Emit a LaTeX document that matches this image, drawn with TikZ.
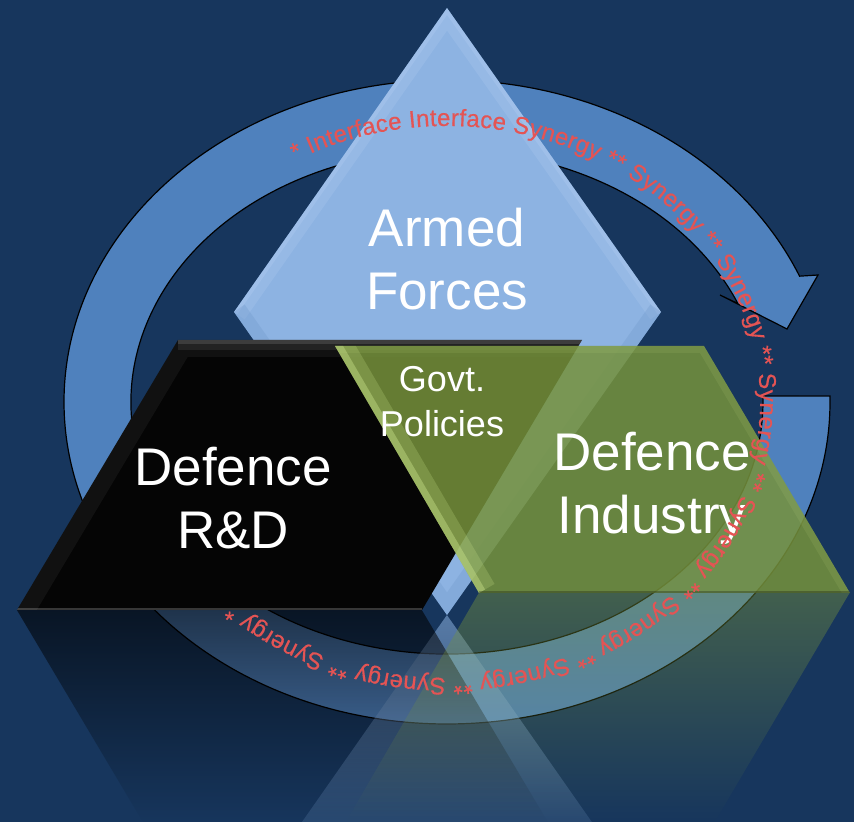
\documentclass[tikz,border=0pt]{standalone}
\usepackage{fontspec}
\setmainfont{Liberation Sans}
\newfontfamily\ringfont[FakeBold=0.4]{Liberation Sans}
\usetikzlibrary{
	calc				% Allows ($(a)+(b)$) style coordinates
	, fadings			% Allows fading reflections
	, decorations.text	% Allows text along the ring
}

\definecolor{navy}{RGB}{23,54,93}
\definecolor{ringblue}{RGB}{79,129,189}
\definecolor{skyblue}{RGB}{141,179,226}
\definecolor{skylight}{RGB}{186,212,245}
\definecolor{skydark}{RGB}{110,150,200}
\definecolor{olive}{RGB}{118,146,60}
\definecolor{olivelight}{RGB}{205,230,140}
\definecolor{synred}{RGB}{228,84,84}

\tikzfading[name=fadeblack, top color=transparent!40, middle color=transparent!85, bottom color=transparent!100]
\tikzfading[name=fadeolive, top color=transparent!55, middle color=transparent!85, bottom color=transparent!100]
\tikzfading[name=fadesky, top color=transparent!45, bottom color=transparent!85]

\begin{document}
\begin{tikzpicture}[x=1pt, y=1pt
		, ring/.style={fill=ringblue, draw=black, line width=1.2pt}
		, bigtext/.style={text=white, align=center, inner sep=0pt, font=\fontsize{53}{63}\selectfont}
		, smalltext/.style={text=white, align=center, inner sep=0pt, font=\fontsize{36}{45}\selectfont}
		, bevel/.style={line join=miter, line cap=butt}]

		\useasboundingbox (0,0) rectangle (854,822);
		\fill[navy] (0,0) rectangle (854,822);

		%%% Corner points of the three blocks
		\coordinate (ringc) at (447,420);
		%% Armed Forces
		\coordinate (forcestop) at (447,814);
		\coordinate (forcesleft) at (234,510);
		\coordinate (forcesright) at (661,510);
		\coordinate (forcesbottom) at (447,207);
		%% Defence R&D
		\coordinate (rndtl) at (178,482);
		\coordinate (rndtr) at (582,482);
		\coordinate (rndbr) at (422,212);
		\coordinate (rndbl) at (17,212);
		%% Defence Industry
		\coordinate (industrytl) at (335,476);
		\coordinate (industrytr) at (704,476);
		\coordinate (industrybr) at (850,229);
		\coordinate (industrybl) at (479,229);

		%%% Circular arrow
		\draw[ring] ($(ringc)+(1.07:383 and 322)$)
			arc[start angle=1.07, end angle=-337, x radius=383pt, y radius=322pt]
			-- (818,547) -- (787,493) -- (720,527)
			-- ($(ringc)+(-337:316 and 252)$)
			arc[start angle=-337, end angle=1.36, x radius=316pt, y radius=252pt] -- cycle;

		%%% Reflections
		\fill[skyblue, path fading=fadesky] (forcesbottom) -- (592,0) -- (302,0) -- cycle;
		\fill[black, path fading=fadeblack] (rndbl) -- (rndbr) -- (548,0) -- (143,0) -- cycle;
		\fill[olive, path fading=fadeolive] (industrybl) -- (industrybr) -- (715,0) -- (346,0) -- cycle;

		%%% Armed Forces
		\fill[skyblue] (forcestop) -- (forcesright) -- (forcesbottom) -- (forcesleft) -- cycle;
		\begin{scope}
			\clip (forcestop) -- (forcesright) -- (forcesbottom) -- (forcesleft) -- cycle;
			\draw[bevel, skylight, line width=26pt, opacity=0.2] (forcesleft) -- (forcestop) -- (forcesright);
			\draw[bevel, skylight, line width=8pt, opacity=0.25] (forcesleft) -- (forcestop) -- (forcesright);
			\draw[bevel, skydark, line width=26pt, opacity=0.3] (forcesleft) -- (forcesbottom) -- (forcesright);
		\end{scope}

		%%% Defence R&D
		\fill[black!98] (rndtl) -- (rndtr) -- (rndbr) -- (rndbl) -- cycle;
		\begin{scope}
			\clip (rndtl) -- (rndtr) -- (rndbr) -- (rndbl) -- cycle;
			\draw[bevel, white, line width=34pt, opacity=0.05] (rndbl) -- (rndtl) -- (rndtr);
			\draw[bevel, white, line width=20pt, opacity=0.08] (rndtl) -- (rndtr);
			\draw[bevel, white, line width=8pt, opacity=0.12] (rndtl) -- (rndtr);
			\draw[bevel, white, line width=3pt, opacity=0.2] (rndbl) -- (rndbr);
		\end{scope}

		%%% Defence Industry
		\fill[olive, fill opacity=0.85] (industrytl) -- (industrytr) -- (industrybr) -- (industrybl) -- cycle;
		\begin{scope}
			\clip (industrytl) -- (industrytr) -- (industrybr) -- (industrybl) -- cycle;
			\draw[bevel, olivelight, line width=36pt, opacity=0.22] (industrybl) -- (industrytl);
			\draw[bevel, olivelight, line width=14pt, opacity=0.4] (industrybl) -- (industrytl);
			\draw[bevel, olivelight, line width=14pt, opacity=0.1] (industrytl) -- (industrytr) -- (industrybr);
			\draw[bevel, black, line width=3pt, opacity=0.25] (industrybl) -- (industrybr);
		\end{scope}

		%%% Labels
		\node[bigtext] (armedforces) at (447,563) {Armed\\Forces};
		\node[bigtext] (defencernd) at (233,324) {Defence\\R\&D};
		\node[bigtext] (defenceindustry) at (652,334) {Defence\\Industry};
		\node[smalltext] (govtpolicies) at (442,420) {Govt.\\Policies};

		%%% Text round the ring
		\path[decorate, decoration={text along path, text align=fit to path, text color=synred,
				text={|\ringfont\fontsize{24}{24}\selectfont|* Interface Interface Synergy ** Synergy ** Synergy ** Synergy ** Synergy ** Synergy ** Synergy ** Synergy ** Synergy *}}]
			($(ringc)+(119:313 and 276)$)
			arc[start angle=119, end angle=-133, x radius=313pt, y radius=276pt];
	\end{tikzpicture}
\end{document}
